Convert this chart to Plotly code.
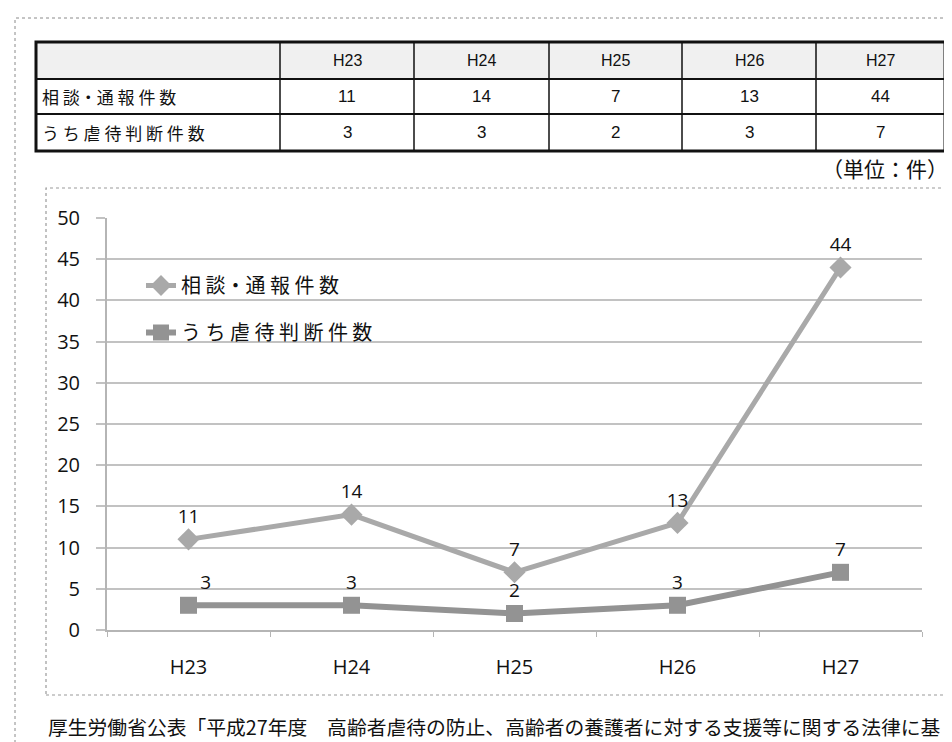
import plotly.graph_objects as go

# ---- data ----
years = ["H23", "H24", "H25", "H26", "H27"]
consults = [11, 14, 7, 13, 44]
abuse = [3, 3, 2, 3, 7]
series_names = ["相談・通報件数", "うち虐待判断件数"]
y_ticks = [0, 5, 10, 15, 20, 25, 30, 35, 40, 45, 50]
unit_label = "（単位：件）"
footer_text = "厚生労働省公表「平成27年度　高齢者虐待の防止、高齢者の養護者に対する支援等に関する法律に基"

# ---- layout geometry (pixels) ----
W, H = 952, 742
L, R, T, B = 99, 914, 210, 622

def X(px):
    return (px - L) / (R - L)

def Y(py):
    return (B - py) / (B - T)

def spaced(s):
    out = ""
    for i, ch in enumerate(s):
        out += ch
        if i < len(s) - 1 and ch != "・" and s[i + 1] != "・":
            out += " "
    return out

JP = "Noto Sans CJK JP"
NUM = "Open Sans"

fig = go.Figure()

fig.add_trace(go.Scatter(
    x=years, y=consults, name=spaced(series_names[0]),
    mode="lines+markers+text",
    line=dict(color="#a9a9a9", width=5),
    marker=dict(symbol="diamond", size=17, color="#a9a9a9"),
    text=[str(v) for v in consults], textposition="top center",
    textfont=dict(family=NUM, size=19, color="#111"),
    legendgroup="a",
))
fig.add_trace(go.Scatter(
    x=years, y=abuse, name=spaced(series_names[1]),
    mode="lines+markers+text",
    line=dict(color="#939393", width=6),
    marker=dict(symbol="square", size=17, color="#939393"),
    text=[str(v) for v in abuse],
    textposition=["top right", "top center", "top center", "top center", "top center"],
    textfont=dict(family=NUM, size=19, color="#111"),
    legendgroup="b",
))

shapes = []
annotations = []

# outer border
shapes.append(dict(type="rect", xref="paper", yref="paper",
                   x0=X(7), x1=X(960), y0=Y(760), y1=Y(10),
                   line=dict(color="#8a8a8a", width=1, dash="dot"), layer="below"))
# chart box
shapes.append(dict(type="rect", xref="paper", yref="paper",
                   x0=X(38), x1=X(943), y0=Y(687), y1=Y(180),
                   line=dict(color="#9a9a9a", width=1.2, dash="dot"), layer="below"))

# table
col_edges = [28, 272, 406, 541, 674, 808, 937]
row_edges = [34, 71, 106, 143]
shapes.append(dict(type="rect", xref="paper", yref="paper",
                   x0=X(col_edges[0]), x1=X(col_edges[-1]), y0=Y(row_edges[1]), y1=Y(row_edges[0]),
                   fillcolor="#f0f0f0", line=dict(width=0), layer="below"))
for xe in col_edges[1:-1]:
    shapes.append(dict(type="line", xref="paper", yref="paper",
                       x0=X(xe), x1=X(xe), y0=Y(row_edges[-1]), y1=Y(row_edges[0]),
                       line=dict(color="#111", width=1.5)))
for ye in row_edges[1:-1]:
    shapes.append(dict(type="line", xref="paper", yref="paper",
                       x0=X(col_edges[0]), x1=X(col_edges[-1]), y0=Y(ye), y1=Y(ye),
                       line=dict(color="#111", width=2)))
shapes.append(dict(type="rect", xref="paper", yref="paper",
                   x0=X(col_edges[0]), x1=X(col_edges[-1]), y0=Y(row_edges[-1]), y1=Y(row_edges[0]),
                   line=dict(color="#111", width=3)))

def cell_center(i):
    return (col_edges[i] + col_edges[i + 1]) / 2

def row_center(j):
    return (row_edges[j] + row_edges[j + 1]) / 2

for i, yr in enumerate(years):
    annotations.append(dict(xref="paper", yref="paper", x=X(cell_center(i + 1)), y=Y(row_center(0)),
                            text=yr, showarrow=False, xanchor="center", yanchor="middle",
                            font=dict(family="Liberation Sans", size=16, color="#111")))
rows = [consults, abuse]
for j, (nm, vals) in enumerate(zip(series_names, rows)):
    annotations.append(dict(xref="paper", yref="paper", x=X(col_edges[0] + 4), y=Y(row_center(j + 1)),
                            text=spaced(nm), showarrow=False, xanchor="left", yanchor="middle",
                            font=dict(family=JP, size=17, color="#111")))
    for i, v in enumerate(vals):
        annotations.append(dict(xref="paper", yref="paper", x=X(cell_center(i + 1)), y=Y(row_center(j + 1)),
                                text=str(v), showarrow=False, xanchor="center", yanchor="middle",
                                font=dict(family="Liberation Sans", size=17, color="#111")))

# unit label
annotations.append(dict(xref="paper", yref="paper", x=X(942), y=Y(160), text=unit_label,
                        showarrow=False, xanchor="right", yanchor="middle",
                        font=dict(family=JP, size=21, color="#111")))
# footer
annotations.append(dict(xref="paper", yref="paper", x=X(38), y=Y(718), text=footer_text,
                        showarrow=False, xanchor="left", yanchor="middle",
                        font=dict(family=JP, size=19.8, color="#111")))

fig.update_layout(
    width=W, height=H,
    margin=dict(l=L, r=W - R, t=T, b=H - B, pad=0),
    paper_bgcolor="white", plot_bgcolor="white",
    showlegend=True,
    legend=dict(x=X(133), y=Y(258), xanchor="left", yanchor="top",
                bgcolor="rgba(0,0,0,0)", tracegroupgap=18,
                font=dict(family=JP, size=20, color="#111")),
    xaxis=dict(type="category", range=[-0.5, 4.5], showgrid=False,
               showline=True, linecolor="#b5b5b5", linewidth=2,
               ticks="outside", tickson="boundaries", ticklen=5, tickcolor="#b5b5b5",
               ticklabelstandoff=18,
               tickfont=dict(family=NUM, size=20, color="#111")),
    yaxis=dict(range=[0, 50], tickvals=y_ticks, showgrid=True, gridcolor="#c2c2c2", gridwidth=2,
               zeroline=False, showline=True, linecolor="#b5b5b5", linewidth=2,
               ticks="outside", ticklen=9, tickcolor="#c2c2c2", tickwidth=2,
               ticklabelstandoff=12,
               tickfont=dict(family=NUM, size=20, color="#111")),
    shapes=shapes, annotations=annotations,
)

fig.write_html("out.html")
